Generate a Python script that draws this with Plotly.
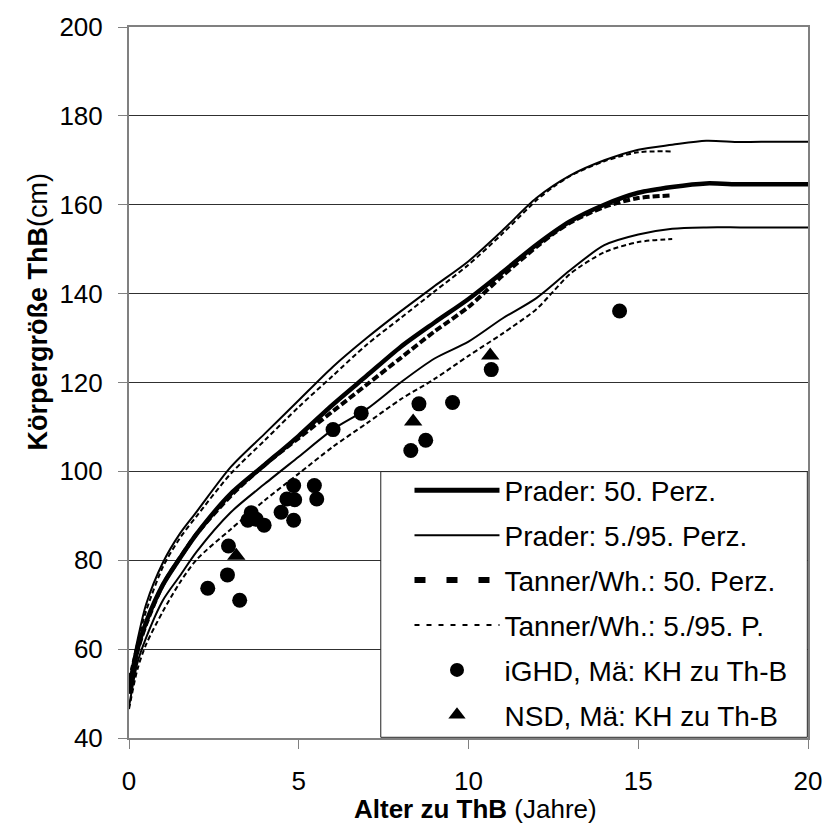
import plotly.graph_objects as go

# Reference growth curves (girls): Prader (Zürich) and Tanner/Whitehouse
age_prader = [0, 0.25, 0.5, 1, 1.5, 2, 3, 4, 5, 6, 7, 8, 9, 10, 11, 12, 13, 14, 15, 16, 17, 18, 19, 20]
prader_p50 = [50, 60, 66, 74.5, 80.5, 86, 95, 101.5, 108, 115, 121.5, 128, 133.5, 138.8, 144.8, 151,
              156.3, 160, 162.7, 164, 164.8, 164.6, 164.6, 164.6]
prader_p95 = [52.5, 62, 70, 79.5, 86, 91, 101, 108.5, 116, 123.5, 130, 136, 141.7, 147.3, 154.2, 161.5,
              166.6, 170, 172.4, 173.5, 174.4, 174.1, 174.2, 174.2]
prader_p5 = [47, 57, 62.5, 71, 76.5, 82, 90.8, 97.2, 103.3, 109.4, 114, 120, 125.4, 129.2, 134.4, 139,
             145.3, 150.9, 153.3, 154.6, 154.9, 154.9, 154.9, 154.9]

age_tanner = [0, 0.25, 0.5, 1, 1.5, 2, 3, 4, 5, 6, 7, 8, 9, 10, 11, 12, 12.5, 13, 14, 15, 16]
tanner_p50 = [50, 59.5, 65.5, 74.5, 80.5, 86, 94.5, 101.5, 107.5, 113.5, 119.5, 125.5, 131.5, 137, 144,
              150.5, 153.5, 156, 159.5, 161.5, 162.1]
tanner_p95 = [53.5, 61.5, 68.5, 78.5, 85, 90, 99.5, 107, 114.5, 121.5, 128.5, 134.5, 140.5, 146.5, 153.5,
              161, 164, 166.5, 169.8, 171.8, 172.0]
tanner_p5 = [46.5, 55.5, 61, 68.5, 75, 80.2, 87, 93.5, 99.5, 105.5, 110.8, 116.2, 120.8, 126, 131,
             136.5, 140.5, 144.5, 149.3, 151.6, 152.3]

# Patients: age and height at start of therapy
ighd_age = [2.32, 2.90, 2.93, 3.26, 3.50, 3.60, 3.75, 3.98, 4.48, 4.65, 4.85, 4.88, 4.85, 5.46, 5.53,
            6.01, 6.84, 8.30, 8.54, 8.74, 9.53, 10.67, 14.45]
ighd_height = [73.7, 76.7, 83.2, 71.0, 89.0, 90.7, 89.2, 87.9, 90.8, 93.8, 96.8, 93.6, 89.0, 96.8, 93.8,
               109.4, 113.1, 104.7, 115.2, 107.0, 115.5, 122.9, 136.1]
nsd_age = [3.16, 8.37, 10.64]
nsd_height = [81.0, 111.2, 126.1]

legend_labels = ["Prader: 50. Perz.", "Prader: 5./95. Perz.", "Tanner/Wh.: 50. Perz.",
                 "Tanner/Wh.: 5./95. P.", "iGHD, Mä: KH zu Th-B", "NSD, Mä: KH zu Th-B"]

FONT = "Arial, Liberation Sans, sans-serif"
BLACK = "#000000"

fig = go.Figure()

def curve(x, y, width, dash):
    fig.add_trace(go.Scatter(x=x, y=y, mode="lines", showlegend=False, hoverinfo="skip",
                             line=dict(color=BLACK, width=width, dash=dash,
                                       shape="spline", smoothing=0.8)))

curve(age_tanner, tanner_p95, 2, "5px,3px")
curve(age_tanner, tanner_p5, 2, "5px,3px")
curve(age_tanner, tanner_p50, 4, "7px,3px")
curve(age_prader, prader_p95, 2, "solid")
curve(age_prader, prader_p5, 2, "solid")
curve(age_prader, prader_p50, 4.5, "solid")

fig.add_trace(go.Scatter(x=ighd_age, y=ighd_height, mode="markers", showlegend=False,
                         marker=dict(symbol="circle", size=15, color=BLACK)))
fig.add_trace(go.Scatter(x=nsd_age, y=nsd_height, mode="markers", showlegend=False,
                         marker=dict(symbol="triangle-up", size=16, color=BLACK)))

# legend entries
legend_styles = [
    dict(mode="lines", line=dict(color=BLACK, width=5, dash="solid")),
    dict(mode="lines", line=dict(color=BLACK, width=2, dash="solid")),
    dict(mode="lines", line=dict(color=BLACK, width=6, dash="11px,21px")),
    dict(mode="lines", line=dict(color=BLACK, width=2, dash="5px,7px")),
    dict(mode="markers", marker=dict(symbol="circle", size=14, color=BLACK)),
    dict(mode="markers", marker=dict(symbol="triangle-up", size=15, color=BLACK)),
]
for i, (label, style) in enumerate(zip(legend_labels, legend_styles)):
    fig.add_trace(go.Scatter(x=[None], y=[None], name=label, legendgroup=f"g{i}",
                             showlegend=True, **style))

axis_common = dict(showline=True, linecolor="#808080", linewidth=2, mirror=True,
                   ticks="outside", ticklen=9, tickcolor="#808080", tickwidth=1,
                   tickfont=dict(family=FONT, size=26, color=BLACK), zeroline=False)

fig.update_xaxes(range=[0, 20], tickvals=[0, 5, 10, 15, 20], showgrid=False,
                 ticklabelstandoff=10, **axis_common)
fig.update_yaxes(range=[40, 200], tickvals=list(range(40, 201, 20)), showgrid=True,
                 gridcolor="#303030", gridwidth=1, ticklabelstandoff=10, **axis_common)

fig.add_shape(type="rect", xref="paper", yref="paper", x0=0.3708, x1=0.999, y0=0.001, y1=0.3747,
              fillcolor="white", line=dict(color="#202020", width=1), layer="above")

fig.add_annotation(text="<b>Alter zu ThB</b> (Jahre)", xref="paper", yref="paper",
                   x=0.51, y=-0.1, xanchor="center", yanchor="middle", showarrow=False,
                   font=dict(family=FONT, size=26, color=BLACK))
fig.add_annotation(text="<b>Körpergröße ThB</b>(cm)", xref="paper", yref="paper",
                   x=-0.134, y=0.6, xanchor="center", yanchor="middle", textangle=-90,
                   showarrow=False, font=dict(family=FONT, size=27, color=BLACK))

fig.update_layout(
    width=834, height=826,
    margin=dict(l=129, r=20, t=20, b=88),
    paper_bgcolor="white", plot_bgcolor="white",
    showlegend=True,
    legend=dict(x=0.4131, y=0.3831, xanchor="left", yanchor="top",
                bgcolor="rgba(0,0,0,0)", borderwidth=0, itemwidth=85,
                tracegroupgap=5.5, font=dict(family=FONT, size=28, color=BLACK),
                itemclick=False, itemdoubleclick=False),
)

fig.write_html("out.html")
